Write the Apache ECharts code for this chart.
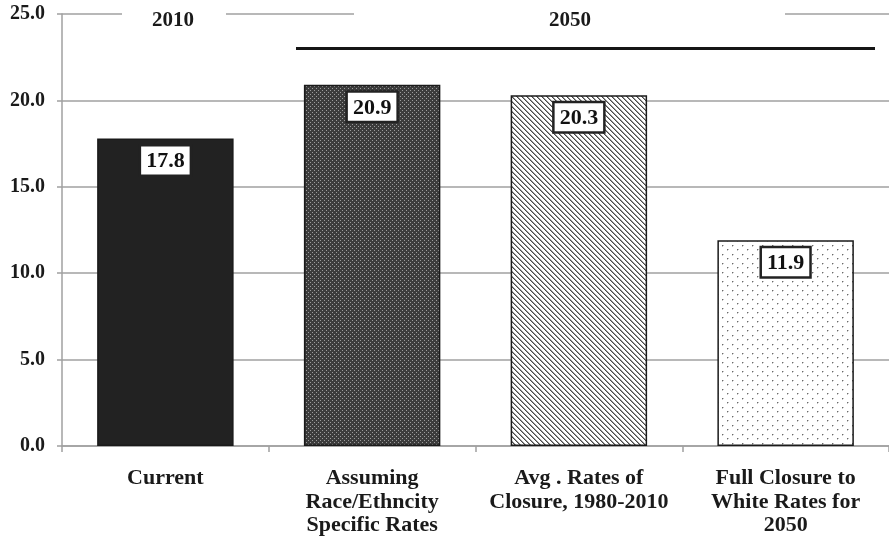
<!DOCTYPE html>
<html>
<head>
<meta charset="utf-8">
<script src="https://cdn.jsdelivr.net/npm/echarts@6/dist/echarts.min.js"></script>
<style>
html,body{margin:0;padding:0;background:#fff;}
#chart{width:889px;height:550px;}
</style>
</head>
<body>
<div id="chart"></div>
<script>
// ---- data ----
var categories = ['Current', 'Assuming\nRace/Ethncity\nSpecific Rates', 'Avg . Rates of\nClosure, 1980-2010', 'Full Closure to\nWhite Rates for\n2050'];
var values = [17.8, 20.9, 20.3, 11.9];
var yTicks = [0, 5, 10, 15, 20, 25];
var periodLabels = ['2010', '2050'];
var bracketValue = 23;

// ---- patterns ----
function makeTile(w, h, bg, fn) {
  var c = document.createElement('canvas');
  c.width = w; c.height = h;
  var ctx = c.getContext('2d');
  ctx.fillStyle = bg; ctx.fillRect(0, 0, w, h);
  fn(ctx);
  return c;
}
var checker = makeTile(4, 4, '#3c3c3c', function (ctx) {
  ctx.fillStyle = '#9c9c9c';
  ctx.fillRect(0, 0, 1, 1);
  ctx.fillRect(2, 2, 1, 1);
});
var stripes = makeTile(5, 5, '#ffffff', function (ctx) {
  for (var y = 0; y < 5; y++) for (var x = 0; x < 5; x++) {
    var d = ((x - y) % 5 + 5) % 5;
    if (d === 0) { ctx.fillStyle = '#4a4a4a'; ctx.fillRect(x, y, 1, 1); }
    else if (d === 1) { ctx.fillStyle = '#9a9a9a'; ctx.fillRect(x, y, 1, 1); }
  }
});
var dots = makeTile(10, 9, '#ffffff', function (ctx) {
  ctx.fillStyle = '#6a6a6a';
  ctx.fillRect(2, 2, 1, 1);
  ctx.fillRect(7, 6, 1, 1);
  ctx.fillStyle = '#c4c4c4';
  ctx.fillRect(3, 2, 1, 1); ctx.fillRect(2, 3, 1, 1);
  ctx.fillRect(8, 6, 1, 1); ctx.fillRect(7, 7, 1, 1);
});
var fills = ['#222222', {image: checker, repeat: 'repeat'}, {image: stripes, repeat: 'repeat'}, {image: dots, repeat: 'repeat'}];

var serif = '"Liberation Serif", "Times New Roman", serif';
var gridCol = '#a0a0a0';

var chart = echarts.init(document.getElementById('chart'), null, {renderer: 'canvas'});
var option = {
  animation: false,
  backgroundColor: '#ffffff',
  grid: {left: 62, right: -4, top: 14, height: 432},
  xAxis: {
    type: 'category',
    data: categories,
    axisLine: {lineStyle: {color: gridCol, width: 1.5}},
    axisTick: {show: true, length: 6, lineStyle: {color: gridCol, width: 1.5}},
    axisLabel: {
      interval: 0, margin: 21,
      fontFamily: serif, fontWeight: 'bold', fontSize: 22, lineHeight: 23.5, color: '#1a1a1a'
    }
  },
  yAxis: {
    type: 'value',
    min: yTicks[0], max: yTicks[yTicks.length - 1], interval: 5,
    axisLine: {show: true, lineStyle: {color: gridCol, width: 1.5}},
    axisTick: {show: true, length: 5, lineStyle: {color: gridCol, width: 1.5}},
    splitLine: {lineStyle: {color: gridCol, width: 1.5}},
    axisLabel: {
      margin: 17,
      formatter: function (v) { return v.toFixed(1); },
      fontFamily: serif, fontWeight: 'bold', fontSize: 20, color: '#1a1a1a'
    }
  },
  series: [{
    type: 'bar',
    barWidth: '66%',
    data: values.map(function (v, i) {
      return {value: v, itemStyle: {color: fills[i], borderColor: '#1a1a1a', borderWidth: 1.5}};
    }),
    label: {
      show: true, position: 'insideTop', distance: 8,
      formatter: function (p) { return p.value.toFixed(1); },
      fontFamily: serif, fontWeight: 'bold', fontSize: 22, color: '#111',
      backgroundColor: '#ffffff', borderColor: '#222', borderWidth: 2.5,
      padding: [4, 5, 2, 5]
    }
  }]
};
chart.setOption(option);

var yTop = chart.convertToPixel({yAxisIndex: 0}, yTicks[yTicks.length - 1]);
var yBr = chart.convertToPixel({yAxisIndex: 0}, bracketValue);
chart.setOption({
  graphic: [
    {type: 'rect', shape: {x: 122, y: yTop - 8, width: 104, height: 20}, style: {fill: '#fff'}, z: 100},
    {type: 'rect', shape: {x: 354, y: yTop - 8, width: 431, height: 20}, style: {fill: '#fff'}, z: 100},
    {type: 'text', x: 173, y: yTop + 7, z: 101, style: {text: periodLabels[0], fill: '#1a1a1a', font: 'bold 21px ' + serif, align: 'center', verticalAlign: 'middle'}},
    {type: 'text', x: 570, y: yTop + 7, z: 101, style: {text: periodLabels[1], fill: '#1a1a1a', font: 'bold 21px ' + serif, align: 'center', verticalAlign: 'middle'}},
    {type: 'line', shape: {x1: 296, y1: yBr, x2: 875, y2: yBr}, style: {stroke: '#151515', lineWidth: 3}, z: 101}
  ]
});
</script>
</body>
</html>
